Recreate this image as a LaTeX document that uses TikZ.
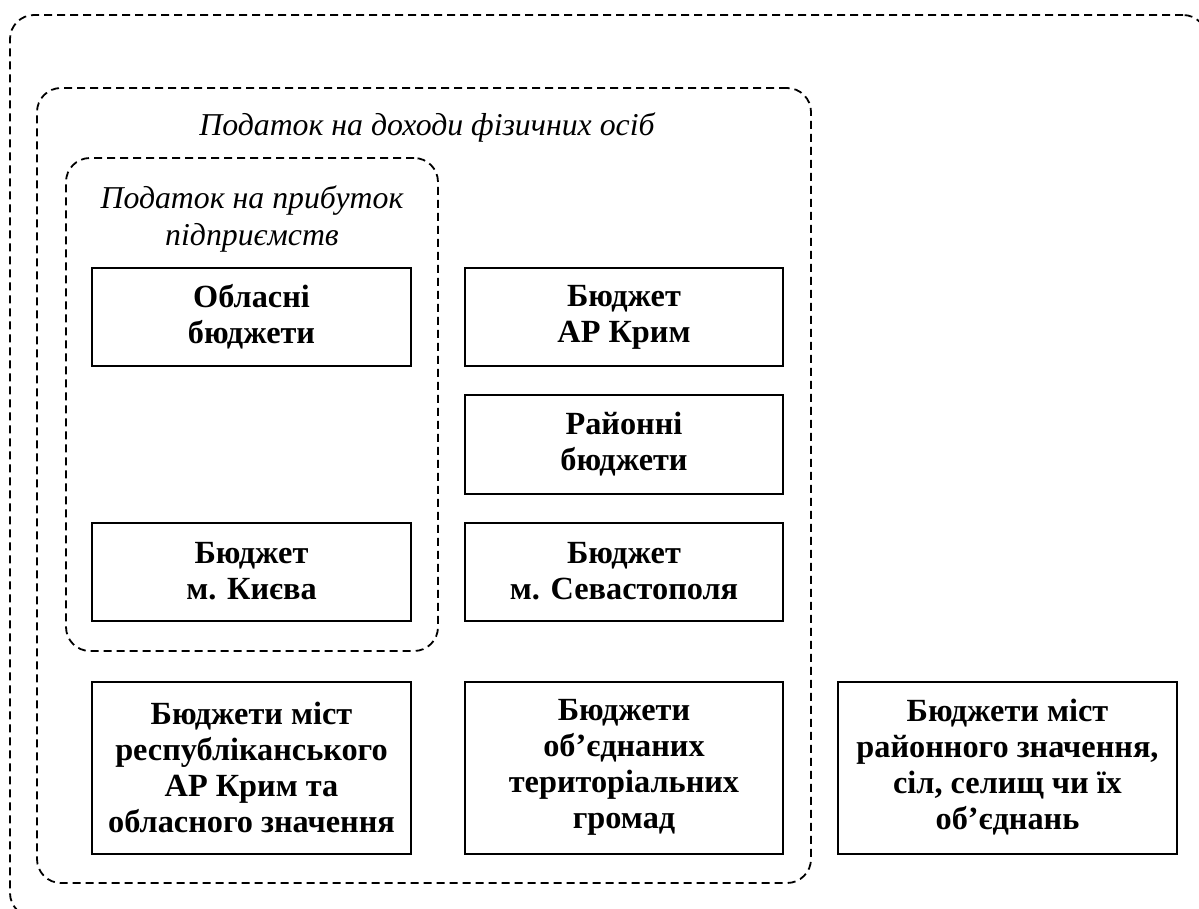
\documentclass[tikz,border=0pt]{standalone}
\usepackage{fontspec}
\setmainfont{Liberation Serif}
\begin{document}
\begin{tikzpicture}[x=1pt,y=-1pt,
  budget/.style={draw, line width=2pt, inner sep=0pt, align=center,
    font=\fontsize{32.3}{36}\selectfont\bfseries},
  zone/.style={draw, dashed, line width=1.8pt, rounded corners=24pt,
    dash pattern=on 8pt off 5pt, inner sep=0pt},
  zonelabel/.style={align=center, inner sep=0pt,
    font=\fontsize{31.8}{37}\selectfont\itshape}]
\useasboundingbox (0,0) rectangle (1199,909);

% dashed groupings of budgets
\node[zone, minimum width=1197pt, minimum height=902pt] (all) at (608.5,466) {};
\node[zone, minimum width=774pt, minimum height=795pt] (pdfo) at (424,485.5) {};
\node[zone, minimum width=372pt, minimum height=493pt] (ppp) at (252,404.5) {};

\node[zonelabel] (pdfolabel) at (427,128) {Податок на доходи фізичних осіб};
\node[zonelabel] (ppplabel) at (252,219.5) {Податок на прибуток\\підприємств};

% budget boxes
\node[budget, minimum width=319pt, minimum height=98pt] (oblast) at (251.5,317) {Обласні\\бюджети};
\node[budget, minimum width=318pt, minimum height=98pt] (crimea) at (624,317) {Бюджет\\АР Крим};
\node[budget, minimum width=318pt, minimum height=99pt] (raion) at (624,444.5) {Районні\\бюджети};
\node[budget, minimum width=319pt, minimum height=98pt] (kyiv) at (251.5,571.5) {Бюджет\\м. Києва};
\node[budget, minimum width=318pt, minimum height=98pt] (sevast) at (624,571.5) {Бюджет\\м. Севастополя};

\node[budget, minimum width=319pt, minimum height=172pt] (cities) at (251.5,767.5)
  {Бюджети міст\\республіканського\\АР Крим та\\обласного значення};
\node[budget, minimum width=318pt, minimum height=172pt] (otg) at (624,767.5)
  {Бюджети\\об’єднаних\\територіальних\\громад};
\node[budget, minimum width=339pt, minimum height=172pt] (local) at (1007.5,767.5)
  {Бюджети міст\\районного значення,\\сіл, селищ чи їх\\об’єднань};
\end{tikzpicture}
\end{document}
